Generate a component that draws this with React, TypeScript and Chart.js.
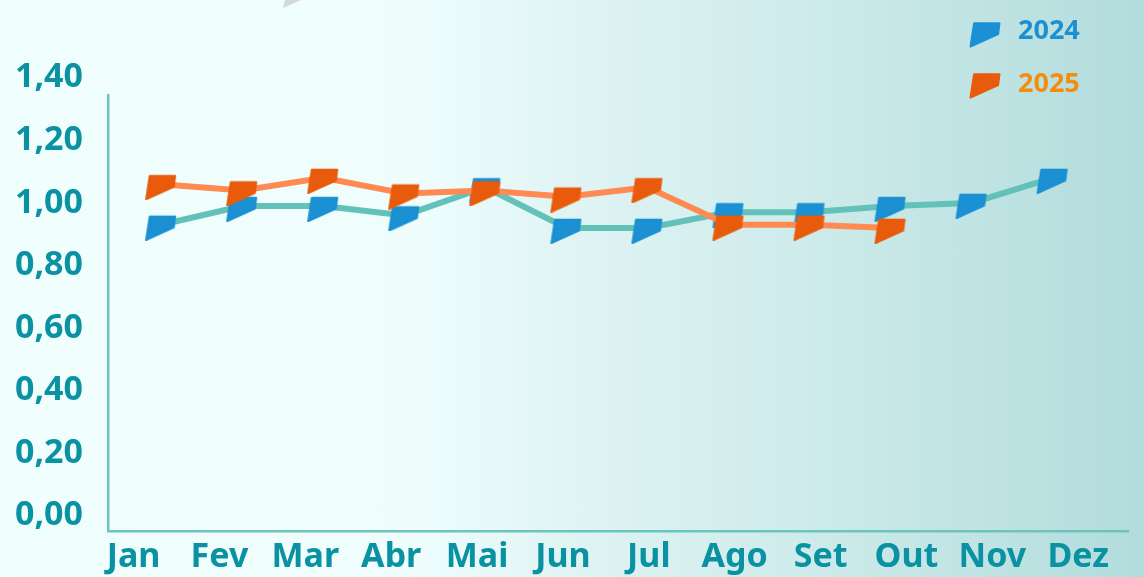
import React, { useEffect, useRef } from "react";
import { Chart, registerables } from "chart.js";

Chart.register(...registerables);

const months = ["Jan", "Fev", "Mar", "Abr", "Mai", "Jun", "Jul", "Ago", "Set", "Out", "Nov", "Dez"];
const values2024 = [0.93, 0.99, 0.99, 0.96, 1.05, 0.92, 0.92, 0.97, 0.97, 0.99, 1.0, 1.08];
const values2025 = [1.06, 1.04, 1.08, 1.03, 1.04, 1.02, 1.05, 0.93, 0.93, 0.92];
const yTicks = [0, 0.2, 0.4, 0.6, 0.8, 1.0, 1.2, 1.4];
const seriesNames = ["2024", "2025"];

const BLUE = "#1B90D3";
const ORANGE = "#E95B0C";
const TEAL_LINE = "#62C1B9";
const ORANGE_LINE = "#FF8A52";
const LABEL = "#0A92A3";
const FONT = "'Noto Sans', 'Open Sans', sans-serif";

// marker polygon (relative to shape bbox 31x25)
const SHAPE = [
  [4.6, 1.2],
  [30, 1.2],
  [28.6, 12],
  [1, 24.5],
];

function makeMarker(color: string) {
  const c = document.createElement("canvas");
  c.width = 34;
  c.height = 32;
  const ctx = c.getContext("2d")!;
  const ox = 1;
  const oy = 6.5;
  ctx.beginPath();
  SHAPE.forEach(([x, y], i) => {
    if (i === 0) ctx.moveTo(x + ox, y + oy);
    else ctx.lineTo(x + ox, y + oy);
  });
  ctx.closePath();
  ctx.fillStyle = color;
  ctx.strokeStyle = color;
  ctx.lineWidth = 2;
  ctx.lineJoin = "round";
  ctx.fill();
  ctx.stroke();
  return c;
}

const fmt = (v: number) => v.toFixed(2).replace(".", ",");

function LegendMarker({ color, left, top }: { color: string; left: number; top: number }) {
  const pts = SHAPE.map(([x, y]) => `${x + 0.5},${y}`).join(" ");
  return (
    <svg width={33} height={27} style={{ position: "absolute", left, top }}>
      <polygon points={pts} fill={color} stroke={color} strokeWidth={2} strokeLinejoin="round" />
    </svg>
  );
}

export default function App() {
  const ref = useRef<HTMLCanvasElement | null>(null);

  useEffect(() => {
    if (!ref.current) return;
    const blueMarker = makeMarker(BLUE);
    const orangeMarker = makeMarker(ORANGE);
    const chart = new Chart(ref.current, {
      type: "line",
      data: {
        datasets: [
          {
            label: seriesNames[0],
            data: values2024.map((v, i) => ({ x: i, y: v })),
            borderColor: TEAL_LINE,
            borderWidth: 6,
            pointStyle: blueMarker as any,
            pointRadius: 10,
            tension: 0,
            order: 2,
            xAxisID: "x",
            yAxisID: "y",
          },
          {
            label: seriesNames[1],
            data: values2025.map((v, i) => ({ x: i, y: v })),
            borderColor: ORANGE_LINE,
            borderWidth: 6,
            pointStyle: orangeMarker as any,
            pointRadius: 10,
            tension: 0,
            order: 1,
            xAxisID: "x",
            yAxisID: "y",
          },
        ],
      },
      options: {
        responsive: false,
        animation: false,
        layout: { padding: { top: 95, left: 0, right: 0, bottom: 0 } },
        plugins: { legend: { display: false }, tooltip: { enabled: false } },
        events: [],
        scales: {
          x: {
            type: "linear",
            display: false,
            min: -0.656,
            max: 11.93,
          },
          xl: {
            type: "linear",
            axis: "x",
            position: "bottom",
            min: -0.298,
            max: 11.58,
            grid: { display: false, drawTicks: false },
            border: { display: true, color: "#6CC5BD", width: 2.5 },
            afterBuildTicks: (scale: any) => {
              scale.ticks = months.map((_, i) => ({ value: i }));
            },
            afterFit: (scale: any) => {
              scale.height = 45;
            },
            ticks: {
              autoSkip: false,
              maxRotation: 0,
              padding: 5,
              color: LABEL,
              font: { family: FONT, size: 34, weight: "bold" },
              callback: (v: any) => months[Math.round(Number(v))] ?? "",
            },
          },
          y: {
            type: "linear",
            min: -0.051,
            max: 1.345,
            grid: { display: false, drawTicks: false },
            border: { display: true, color: "#6CC5BD", width: 2.5 },
            afterBuildTicks: (scale: any) => {
              scale.ticks = yTicks.map((v) => ({ value: v }));
            },
            afterFit: (scale: any) => {
              scale.width = 108;
            },
            ticks: {
              autoSkip: false,
              padding: 25,
              color: LABEL,
              font: { family: FONT, size: 34, weight: "bold" },
              callback: (v: any) => fmt(Number(v)),
            },
          },
        },
      },
    } as any);
    return () => chart.destroy();
  }, []);

  return (
    <div
      style={{
        position: "fixed",
        left: 0,
        top: 0,
        width: 1144,
        height: 577,
        overflow: "hidden",
        background:
          "linear-gradient(90deg, #F0FEFE 0%, #EFFDFD 36%, #E0F4F4 50%, #CDEAEA 72%, #B2DCDC 100%)",
      }}
    >
      <div
        style={{
          position: "absolute",
          left: 283,
          top: 0,
          width: 18,
          height: 8,
          background: "#D6D8D8",
          clipPath: "polygon(2px 0, 18px 0, 0 8px)",
        }}
      />
      <canvas ref={ref} width={1144} height={577} style={{ position: "absolute", left: 0, top: 0 }} />
      <LegendMarker color={BLUE} left={969} top={22} />
      <LegendMarker color={ORANGE} left={969} top={73} />
      <div
        style={{
          position: "absolute",
          left: 1018,
          top: 15,
          font: `bold 27px ${FONT}`,
          lineHeight: "27px",
          color: "#1E8FD0",
        }}
      >
        {seriesNames[0]}
      </div>
      <div
        style={{
          position: "absolute",
          left: 1018,
          top: 68,
          font: `bold 27px ${FONT}`,
          lineHeight: "27px",
          color: "#F28D0E",
        }}
      >
        {seriesNames[1]}
      </div>
    </div>
  );
}
